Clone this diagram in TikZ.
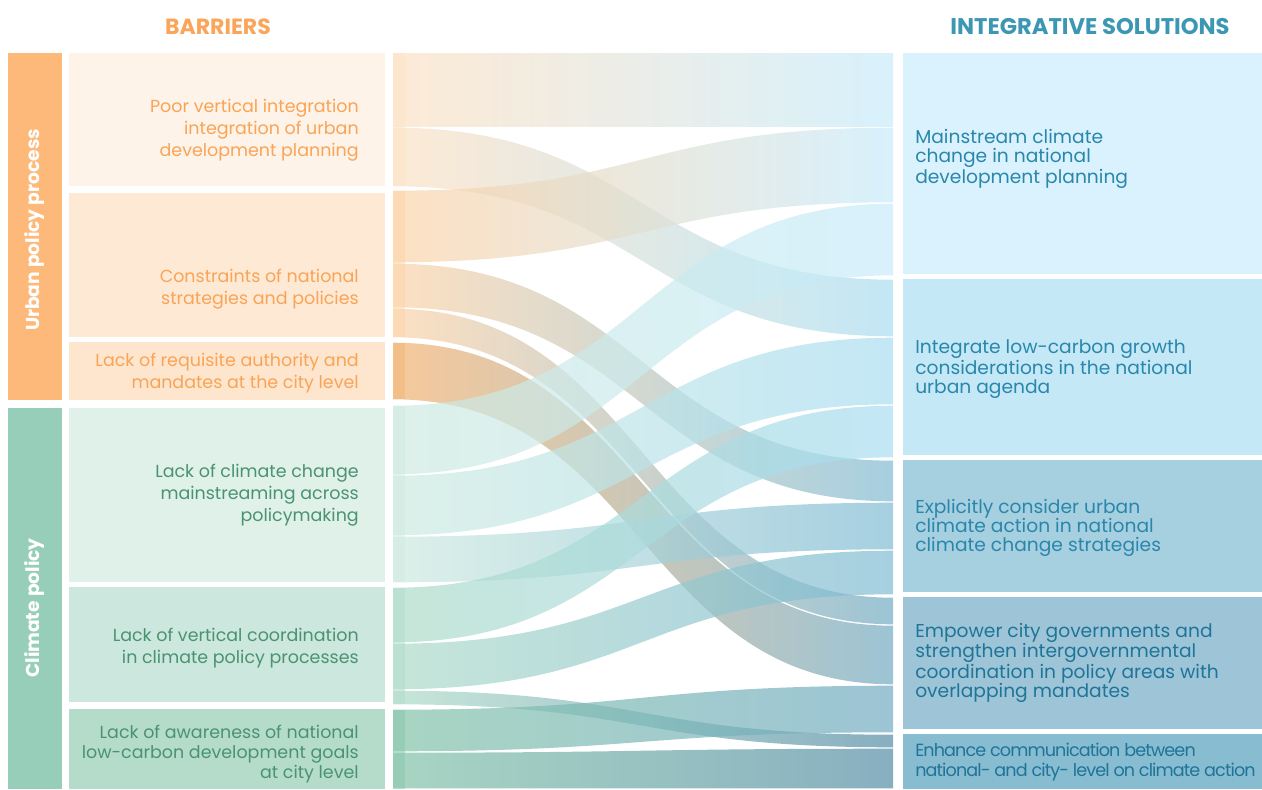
\documentclass[tikz,border=0pt]{standalone}
\usepackage{fontspec}
\setmainfont{Poppins}
\newfontfamily\tightfont[LetterSpace=-5]{Poppins}
\definecolor{cUrban}{HTML}{FDB97A}
\definecolor{cClim}{HTML}{97CEB9}
\definecolor{bA}{HTML}{FEF3E8}
\definecolor{bB}{HTML}{FEE9D5}
\definecolor{bC}{HTML}{FEE5CE}
\definecolor{bD}{HTML}{E0F1EA}
\definecolor{bE}{HTML}{CCE7DD}
\definecolor{bF}{HTML}{B5DCCB}
\definecolor{sA}{HTML}{D9F2FD}
\definecolor{sB}{HTML}{C4E8F6}
\definecolor{sC}{HTML}{A6CFE0}
\definecolor{sD}{HTML}{9DC5D7}
\definecolor{sE}{HTML}{88BCD0}
\definecolor{fA}{HTML}{FCE1C4}
\definecolor{fB}{HTML}{FCD3A8}
\definecolor{fC}{HTML}{F2B270}
\definecolor{fD}{HTML}{CEEAE0}
\definecolor{fE}{HTML}{AEDBC9}
\definecolor{fF}{HTML}{83C3A9}
\definecolor{gA}{HTML}{C7EBFB}
\definecolor{gB}{HTML}{A9DDF1}
\definecolor{gC}{HTML}{80BBD3}
\definecolor{gD}{HTML}{72ABC3}
\definecolor{gE}{HTML}{558DA5}
\definecolor{tOr}{HTML}{F9A456}
\definecolor{tGr}{HTML}{4A9372}
\definecolor{tBl}{HTML}{2A87AC}
\definecolor{tBd}{HTML}{1F7599}
\definecolor{hOr}{HTML}{FBA55B}
\definecolor{hBl}{HTML}{3C97B3}
\newcommand\flowband[6]{%
  \shade[left color=#5, right color=#6, fill opacity=0.7]
    (393,#1+0.7) .. controls (643,#1+0.7) and (643,#3+0.7) .. (893,#3+0.7)
    -- (893,#4-0.7) .. controls (643,#4-0.7) and (643,#2-0.7) .. (393,#2-0.7) -- cycle;}
\tikzset{
  lefttxt/.style={anchor=east, align=right, inner sep=0pt,
    font=\fontsize{13.1pt}{16.5pt}\selectfont},
  righttxt/.style={anchor=west, align=left, inner sep=0pt,
    font=\fontsize{14pt}{14.4pt}\selectfont},
  cattxt/.style={rotate=90, text=white, inner sep=0pt,
    font=\fontsize{14pt}{16pt}\selectfont\bfseries},
  headtxt/.style={inner sep=0pt, font=\fontsize{16.5pt}{19pt}\selectfont\bfseries}
}
\begin{document}
\begin{tikzpicture}[x=0.75pt,y=-0.75pt]
\useasboundingbox (0,0) rectangle (1262,789);
\clip (0,0) rectangle (1262,789);
% headers
\node[headtxt, text=hOr] (hbar) at (218,27) {BARRIERS};
\node[headtxt, text=hBl, font=\fontsize{17pt}{19pt}\selectfont\bfseries] (hsol) at (1090,27) {INTEGRATIVE SOLUTIONS};
% category bars
\fill[cUrban] (8,53) rectangle (62,400);
\fill[cClim] (8,408) rectangle (62,789);
\node[cattxt] (cu) at (35,230) {Urban policy process};
\node[cattxt] (cc) at (35,608) {Climate policy};
% barrier boxes
\fill[bA] (69,53) rectangle (385,186);
\fill[bB] (69,193) rectangle (385,337);
\fill[bC] (69,342) rectangle (385,400);
\fill[bD] (69,408) rectangle (385,582);
\fill[bE] (69,587) rectangle (385,702);
\fill[bF] (69,709) rectangle (385,789);
% solution boxes
\fill[sA] (903,53) rectangle (1262,274);
\fill[sB] (903,279) rectangle (1262,455);
\fill[sC] (903,460) rectangle (1262,592);
\fill[sD] (903,597) rectangle (1262,729);
\fill[sE] (903,734) rectangle (1262,789);
% flows
\flowband{53}{127}{53}{127}{fA}{gA}
\flowband{127}{187}{279}{337}{fA}{gB}
\flowband{190}{263}{127}{203}{fB}{gA}
\flowband{263}{308}{460}{502}{fB}{gC}
\flowband{308}{338}{597}{625}{fB}{gD}
\flowband{342}{400}{625}{685}{fC}{gD}
\flowband{405}{475}{203}{276}{fD}{gA}
\flowband{475}{536}{337}{405}{fD}{gB}
\flowband{536}{583}{502}{550}{fD}{gC}
\flowband{587}{643}{405}{458}{fE}{gB}
\flowband{643}{690}{550}{595}{fE}{gC}
\flowband{690}{705}{734}{748}{fE}{gE}
\flowband{709}{752}{685}{733}{fF}{gD}
\flowband{752}{789}{748}{789}{fF}{gE}
% left node strips
\fill[fA, fill opacity=0.45] (393,53) rectangle (405,186.3);
\fill[fB, fill opacity=0.45] (393,190.7) rectangle (405,337.3);
\fill[fC, fill opacity=0.45] (393,342.7) rectangle (405,399.3);
\fill[fD, fill opacity=0.45] (393,405.7) rectangle (405,582.3);
\fill[fE, fill opacity=0.45] (393,587.7) rectangle (405,704.3);
\fill[fF, fill opacity=0.45] (393,709.7) rectangle (405,789);
% barrier labels
\node[lefttxt, text=tOr] (l1) at (359,130) {Poor vertical integration\\integration of urban\\development planning};
\node[lefttxt, text=tOr] (l2) at (359,289) {Constraints of national\\strategies and policies};
\node[lefttxt, text=tOr] (l3) at (359,373) {Lack of requisite authority and\\mandates at the city level};
\node[lefttxt, text=tGr] (l4) at (359,495) {Lack of climate change\\mainstreaming across\\policymaking};
\node[lefttxt, text=tGr] (l5) at (359,648) {Lack of vertical coordination\\in climate policy processes};
\node[lefttxt, text=tGr, font=\fontsize{13.1pt}{15pt}\selectfont] (l6) at (359,754) {Lack of awareness of national\\low-carbon development goals\\at city level};
% solution labels
\node[righttxt, text=tBl] (r1) at (915,159) {Mainstream climate\\change in national\\development planning};
\node[righttxt, text=tBl] (r2) at (915,369) {Integrate low-carbon growth\\considerations in the national\\urban agenda};
\node[righttxt, text=tBl] (r3) at (915,528) {Explicitly consider urban\\climate action in national\\climate change strategies};
\node[righttxt, text=tBd] (r4) at (915,663) {Empower city governments and\\strengthen intergovernmental\\coordination in policy areas with\\overlapping mandates};
\node[righttxt, text=tBd, font=\fontsize{13.2pt}{14.4pt}\tightfont] (r5) at (915,762) {Enhance communication between\\national- and city- level on climate action};
\end{tikzpicture}
\end{document}
